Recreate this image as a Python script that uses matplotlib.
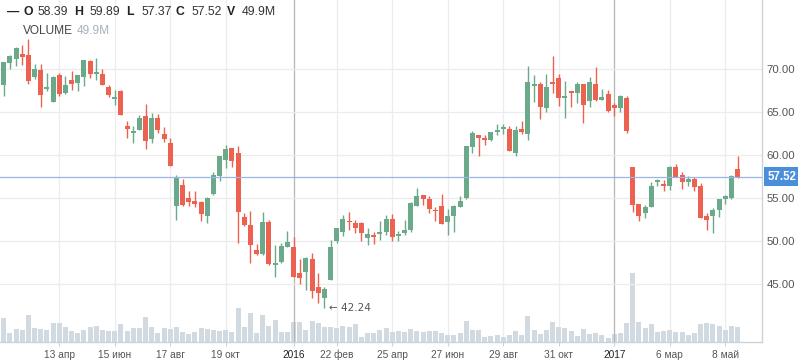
import matplotlib
matplotlib.use('Agg')
import matplotlib.pyplot as plt
import matplotlib.dates as mdates
import numpy as np
import pandas as pd

plt.rcParams['font.family'] = ['Liberation Sans', 'DejaVu Sans']

# ---------------- data ----------------
dates = pd.date_range('2015-02-02', periods=121, freq='7D')

open_ = [62.5, 68.22, 70.77, 71.24, 71.78, 71.67, 69.15, 69.92, 67.71, 66.24,
         69.34, 67.29, 68.76, 68.45, 69.15, 70.97, 69.5, 69.46, 67.94, 66.59,
         67.5, 63.41, 62.63, 62.98, 64.57, 61.93, 64.34, 62.48, 61.43, 54.14,
         56.51, 55.03, 54.69, 54.53, 52.98, 55.5, 57.63, 59.45, 60.85, 60.27,
         52.79, 51.9, 48.99, 48.52, 52.28, 47.28, 47.63, 49.38, 49.34, 46.31,
         46.47, 47.94, 44.73, 43.45, 45.54, 50.07, 51.12, 52.4, 52.13, 52.09,
         50.42, 50.65, 50.81, 51.12, 52.55, 50.65, 51.0, 51.32, 54.14, 55.38,
         54.96, 53.56, 54.1, 52.28, 52.98, 53.95, 54.99, 61.0, 62.36, 61.97,
         61.78, 62.75, 63.06, 63.02, 60.23, 63.02, 62.52, 68.1, 68.29, 65.54,
         68.41, 68.99, 66.7, 67.4, 67.28, 68.33, 66.35, 68.33, 66.47, 67.13,
         65.85, 65.54, 66.66, 58.6, 54.34, 53.33, 54.03, 56.86, 56.55, 56.47,
         58.64, 57.71, 56.94, 57.25, 56.43, 52.98, 52.94, 53.68, 54.96, 55.03,
         58.39]
high = [66.3, 70.9, 71.7, 72.63, 72.83, 73.5, 70.62, 70.62, 69.57, 69.26,
        69.57, 69.22, 69.8, 69.34, 71.08, 71.12, 71.32, 70.04, 68.18, 67.59,
        67.59, 63.99, 63.41, 64.69, 65.96, 64.92, 64.8, 63.33, 62.0, 57.71,
        57.25, 55.85, 55.85, 54.69, 55.19, 58.06, 59.92, 61.2, 60.85, 61.08,
        53.33, 53.52, 49.69, 53.45, 52.48, 49.57, 49.76, 51.24, 50.5, 47.98,
        48.21, 48.6, 46.31, 44.73, 50.11, 51.55, 53.06, 53.45, 52.48, 52.24,
        51.59, 51.12, 52.36, 53.06, 53.17, 51.2, 52.48, 54.61, 56.2, 55.38,
        55.27, 53.95, 55.5, 53.79, 54.22, 55.27, 61.08, 62.86, 62.36, 62.36,
        62.71, 63.64, 63.64, 63.41, 63.41, 63.99, 70.38, 69.38, 68.52, 69.45,
        71.55, 69.45, 68.64, 67.52, 68.52, 68.33, 69.07, 70.31, 67.75, 67.59,
        66.04, 67.05, 66.9, 58.6, 54.34, 54.22, 56.89, 57.28, 57.17, 58.76,
        58.99, 58.02, 57.59, 57.48, 56.74, 53.33, 53.91, 54.96, 55.38, 57.71,
        59.89]
low = [62.4, 66.94, 70.08, 70.42, 70.5, 68.33, 68.87, 65.66, 67.52, 66.2,
       66.94, 67.13, 67.63, 67.52, 68.1, 69.03, 68.8, 68.22, 66.82, 65.89,
       64.69, 62.05, 61.47, 62.98, 60.77, 61.47, 62.63, 61.59, 58.8, 52.52,
       54.14, 54.14, 54.03, 52.4, 52.17, 55.38, 57.05, 58.52, 58.64, 49.84,
       51.78, 47.52, 48.41, 48.41, 47.24, 45.89, 47.52, 49.34, 45.89, 45.03,
       44.34, 43.45, 42.79, 42.24, 45.46, 49.76, 50.66, 51.32, 50.93, 50.07,
       49.57, 49.69, 50.15, 50.73, 50.07, 50.07, 50.77, 51.12, 54.14, 54.22,
       53.33, 52.36, 52.05, 50.73, 51.12, 53.95, 54.88, 60.23, 59.96, 61.2,
       61.66, 62.36, 62.48, 60.54, 59.92, 62.48, 61.78, 66.2, 64.22, 65.07,
       67.28, 65.77, 64.38, 65.66, 66.12, 63.8, 65.66, 66.31, 66.47, 65.03,
       64.61, 65.03, 62.63, 53.45, 52.4, 52.75, 54.03, 56.43, 55.89, 55.97,
       57.52, 56.12, 56.47, 55.89, 52.75, 51.36, 51.01, 52.87, 54.34, 54.96,
       57.37]
close = [66.2, 70.85, 71.55, 72.48, 71.47, 68.68, 70.04, 67.05, 67.94, 69.11,
         67.17, 68.18, 68.33, 69.34, 71.08, 69.5, 69.69, 68.22, 67.05, 66.74,
         64.69, 63.1, 62.75, 64.34, 61.7, 64.34, 62.98, 61.93, 58.8, 57.4,
         54.26, 54.61, 54.38, 53.21, 55.03, 57.71, 59.92, 60.73, 59.38, 53.45,
         51.9, 49.57, 48.52, 52.28, 47.36, 47.4, 49.45, 49.92, 45.89, 45.77,
         48.1, 44.26, 44.03, 44.45, 49.38, 51.55, 52.55, 52.24, 51.59, 50.93,
         50.85, 50.54, 51.04, 52.55, 50.54, 50.85, 51.32, 54.49, 55.27, 54.96,
         53.79, 53.48, 52.05, 52.94, 54.14, 54.69, 61.08, 62.63, 62.05, 61.74,
         62.71, 62.94, 63.25, 60.54, 62.94, 62.75, 68.52, 68.2, 65.66, 67.94,
         68.33, 66.7, 66.86, 67.28, 68.33, 65.89, 68.52, 66.43, 66.82, 65.19,
         65.54, 66.9, 62.83, 54.26, 52.98, 53.99, 56.43, 57.17, 56.47, 58.64,
         57.52, 56.94, 57.25, 56.35, 52.75, 52.52, 53.64, 54.96, 55.31, 57.59,
         57.52]
volume_m = [79, 79, 31.5, 43, 40, 89, 47, 43, 40, 63,
            63, 50, 37, 30, 40, 50, 54, 40, 37, 37,
            58, 37, 47, 45, 82, 50, 30, 47, 43, 50,
            34, 28, 34, 47, 43, 40, 37, 40, 34, 112,
            50, 95, 30, 88, 53, 73, 34, 34, 66, 66,
            40, 69, 63, 50, 50, 47, 53, 50, 60, 17,
            30, 30, 40, 47, 34, 36, 34, 43, 37, 35,
            37, 37, 31, 25, 25, 31, 71, 41, 41, 17,
            22, 25, 17, 25, 37, 25, 87, 41, 28, 41,
            67, 51, 47, 37, 22, 43, 28, 31, 25, 14,
            27, 31, 63, 225, 67, 47, 61, 35, 38, 41,
            34, 34, 25, 31, 60, 63, 61, 54, 40, 53,
            49.9]

tick_dates = ['2015-04-13', '2015-06-15', '2015-08-17', '2015-10-19', '2016-01-04',
              '2016-02-22', '2016-04-25', '2016-06-27', '2016-08-29', '2016-10-31',
              '2017-01-02', '2017-03-06', '2017-05-08']
tick_labels = ['13 апр', '15 июн', '17 авг', '19 окт', '2016', '22 фев', '25 апр',
               '27 июн', '29 авг', '31 окт', '2017', '6 мар', '8 май']
year_labels = ['2016', '2017']
price_ticks = [45, 50, 55, 60, 65, 70]
last_ohlc = {'O': '58.39', 'H': '59.89', 'L': '57.37', 'C': '57.52', 'V': '49.9M'}
last_price = 57.52
min_label = 42.24

# ---------------- style ----------------
GREEN = '#6aaa8b'
RED = '#ec6150'
VOLC = '#d2dae1'
GRID = '#ececec'
YEARLINE = '#b4b4b4'
SPINE = '#c9d3db'
TXT = '#555555'

W, H = 798, 363
fig = plt.figure(figsize=(W / 100, H / 100), dpi=100)
fig.patch.set_facecolor('white')
plot_bottom_px = 342.3
plot_right_px = 762.3
rect = [0, (H - plot_bottom_px) / H, plot_right_px / W, plot_bottom_px / H]
axv = fig.add_axes(rect)
ax = fig.add_axes(rect, sharex=axv)
ax.patch.set_alpha(0)

x = mdates.date2num(dates)
o = np.array(open_); c = np.array(close); hi = np.array(high); lo = np.array(low)
up = c >= o
cols = np.where(up, GREEN, RED)
step = 7.0
body_w = step * 0.81

# x range (week spacing ~6.167 px)
ref = mdates.date2num(pd.Timestamp('2015-04-13'))
xmin = ref - 9.616 * step
xmax = ref + 114.0 * step

# volume
axv.bar(x, volume_m, width=body_w, color=VOLC, zorder=2, linewidth=0)
axv.set_ylim(0, plot_bottom_px / 0.307)
axv.set_xlim(xmin, xmax)
for s in axv.spines.values():
    s.set_visible(False)
axv.set_yticks([])
axv.tick_params(axis='x', length=0, labelbottom=False)

# grid lines on background axis
td = mdates.date2num(pd.to_datetime(tick_dates))
for t, lab in zip(td, tick_labels):
    if lab in year_labels:
        axv.axvline(t, color=YEARLINE, lw=0.9, zorder=3)
    else:
        axv.axvline(t, color=GRID, lw=0.9, zorder=1)

ylo = 70 - (plot_bottom_px - 69.3) / 8.6
yhi = 70 + 69.3 / 8.6
ax.set_ylim(ylo, yhi)
for p in price_ticks:
    ax.axhline(p, color=GRID, lw=0.9, zorder=1)

# candles
ax.vlines(x, lo, hi, colors=cols, lw=1.0, zorder=4)
bh = np.maximum(np.abs(c - o), 0.14)
bb = np.minimum(o, c)
ax.bar(x, bh, bottom=bb, width=body_w, color=cols, linewidth=0, zorder=5)

# last price line
ax.axhline(last_price, color='#9ab6e4', lw=0.9, zorder=6)

# axes styling
ax.set_xlim(xmin, xmax)
for name, s in ax.spines.items():
    if name in ('right', 'bottom'):
        s.set_color(SPINE)
        s.set_linewidth(1.0)
    else:
        s.set_visible(False)
ax.yaxis.tick_right()
ax.set_yticks(price_ticks)
ax.set_yticklabels([f'{p:.2f}' for p in price_ticks])
ax.tick_params(axis='y', length=0, pad=3, labelsize=8.2, labelcolor=TXT)
ax.set_xticks(td)
ax.set_xticklabels(tick_labels)
ax.tick_params(axis='x', length=3, width=0.8, color=SPINE, pad=2.5, labelsize=7.3, labelcolor=TXT)
for lbl in ax.get_xticklabels():
    if lbl.get_text() in year_labels:
        lbl.set_color('#222222')

# last price tag
ax.annotate(f'{last_price:.2f}', xy=(1, last_price), xycoords=('axes fraction', 'data'),
            xytext=(4, 0), textcoords='offset points', va='center', ha='left',
            fontsize=8.3, fontweight='bold', color='white', annotation_clip=False,
            bbox=dict(boxstyle='square,pad=0.3', fc='#4a8fd9', ec='none'), zorder=10)

# min annotation
imin = int(np.argmin(lo))
ax.annotate(f'\u2190 {min_label:.2f}', xy=(x[imin], min_label), xytext=(3, 0),
            textcoords='offset points', va='center', ha='left', fontsize=7.5,
            color=TXT, family=['DejaVu Sans'], zorder=10)

# header
def ftxt(px, py, s, **kw):
    fig.text(px / W, 1 - py / H, s, va='center', ha='left', **kw)

ftxt(7, 12, '\u2014', fontsize=8.8, fontweight='bold', color='#222222')
hx = {'O': 23, 'H': 74, 'L': 126, 'C': 176, 'V': 227}
for k, v in last_ohlc.items():
    ftxt(hx[k], 12, k, fontsize=8.8, fontweight='bold', color='#222222')
    ftxt(hx[k] + 15, 12, v, fontsize=8.8, color='#333333')
ftxt(23, 31, 'VOLUME', fontsize=8.6, color='#444444')
ftxt(77, 31, last_ohlc['V'], fontsize=8.6, color='#a3b3c2')

fig.savefig('out.png', dpi=100, facecolor='white')
